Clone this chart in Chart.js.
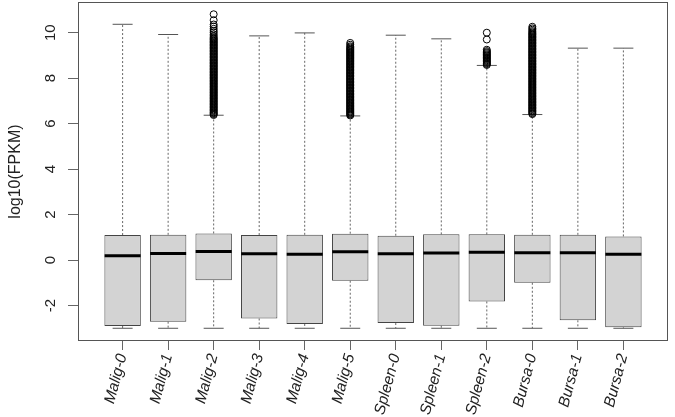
<!DOCTYPE html>
<html><head><meta charset="utf-8">
<script src="https://cdn.jsdelivr.net/npm/chart.js@4/dist/chart.umd.min.js"></script>
<style>html,body{margin:0;padding:0;background:#fff}canvas{display:block}</style>
</head><body>
<canvas id="c" width="675" height="417"></canvas>
<script>
const categories = ['Malig-0','Malig-1','Malig-2','Malig-3','Malig-4','Malig-5','Spleen-0','Spleen-1','Spleen-2','Bursa-0','Bursa-1','Bursa-2'];
const lowerWhisker = [-3.00,-3.00,-3.00,-3.00,-3.00,-3.00,-3.00,-3.00,-3.00,-3.00,-3.00,-3.00];
const q1 = [-2.90,-2.71,-0.89,-2.57,-2.81,-0.91,-2.77,-2.89,-1.82,-1.00,-2.65,-2.96];
const median = [0.19,0.29,0.38,0.28,0.26,0.37,0.28,0.31,0.34,0.32,0.32,0.25];
const q3 = [1.10,1.11,1.17,1.10,1.11,1.16,1.07,1.13,1.13,1.11,1.11,1.04];
const upperWhisker = [10.37,9.92,6.37,9.86,9.99,6.34,9.89,9.73,8.56,6.40,9.32,9.32];
const outliersMalig2 = [6.38,6.42,6.46,6.50,6.55,6.59,6.63,6.68,6.72,6.76,6.81,6.85,6.89,6.94,6.98,7.02,7.07,7.11,7.15,7.20,7.24,7.28,7.33,7.37,7.41,7.46,7.50,7.54,7.59,7.63,7.67,7.72,7.76,7.80,7.85,7.89,7.93,7.98,8.02,8.06,8.11,8.15,8.19,8.24,8.28,8.32,8.37,8.41,8.45,8.50,8.54,8.58,8.63,8.67,8.71,8.76,8.80,8.84,8.89,8.93,8.97,9.02,9.06,9.10,9.15,9.19,9.23,9.28,9.32,9.36,9.41,9.45,9.49,9.54,9.58,9.62,9.67,9.71,9.75,9.80,9.86,9.93,10.01,10.08,10.17,10.27,10.36,10.55,10.81];
const outliersMalig5 = [6.36,6.40,6.44,6.49,6.53,6.57,6.62,6.66,6.70,6.75,6.79,6.83,6.88,6.92,6.96,7.01,7.05,7.09,7.14,7.18,7.22,7.27,7.31,7.35,7.40,7.44,7.48,7.53,7.57,7.61,7.66,7.70,7.74,7.79,7.83,7.87,7.92,7.96,8.00,8.05,8.09,8.13,8.18,8.22,8.26,8.31,8.35,8.39,8.44,8.48,8.52,8.57,8.61,8.65,8.70,8.74,8.78,8.83,8.87,8.91,8.96,9.00,9.04,9.09,9.13,9.17,9.22,9.26,9.30,9.35,9.40,9.47,9.55];
const outliersSpleen2 = [8.58,8.62,8.66,8.71,8.75,8.79,8.84,8.88,8.92,8.97,9.01,9.05,9.10,9.14,9.19,9.25,9.70,10.00];
const outliersBursa0 = [6.42,6.46,6.51,6.55,6.59,6.64,6.68,6.72,6.77,6.81,6.85,6.90,6.94,6.98,7.03,7.07,7.11,7.16,7.20,7.24,7.29,7.33,7.37,7.42,7.46,7.50,7.55,7.59,7.63,7.68,7.72,7.76,7.81,7.85,7.89,7.94,7.98,8.02,8.07,8.11,8.15,8.20,8.24,8.28,8.33,8.37,8.41,8.46,8.50,8.54,8.59,8.63,8.67,8.72,8.76,8.80,8.85,8.89,8.93,8.98,9.02,9.06,9.11,9.15,9.19,9.24,9.28,9.32,9.37,9.41,9.45,9.50,9.54,9.58,9.63,9.67,9.71,9.76,9.80,9.84,9.89,9.93,9.97,10.02,10.07,10.13,10.19,10.26];
const outlierGroups = [['Malig-2', outliersMalig2], ['Malig-5', outliersMalig5], ['Spleen-2', outliersSpleen2], ['Bursa-0', outliersBursa0]];
const yTicks = [-2, 0, 2, 4, 6, 8, 10];
const yTitle = 'log10(FPKM)';

const pos = i => i + 1;
const boxData = categories.map((c, i) => ({x: pos(i), y: [q1[i], q3[i]]}));
const whiskerData = [];
categories.forEach((c, i) => {
  whiskerData.push({x: pos(i), y: q3[i]}, {x: pos(i), y: upperWhisker[i]}, {x: pos(i), y: null});
  whiskerData.push({x: pos(i), y: q1[i]}, {x: pos(i), y: lowerWhisker[i]}, {x: pos(i), y: null});
});
const capData = [];
categories.forEach((c, i) => { capData.push({x: pos(i), y: upperWhisker[i]}, {x: pos(i), y: lowerWhisker[i]}); });
const medianData = categories.map((c, i) => ({x: pos(i), y: median[i]}));
const outlierData = [];
outlierGroups.forEach(([name, vals]) => {
  const i = categories.indexOf(name);
  vals.forEach(v => outlierData.push({x: pos(i), y: v}));
});

const FONT = '"Liberation Sans", Arial, Helvetica, sans-serif';
const framePlugin = {
  id: 'frame',
  afterDraw(chart) {
    const {ctx, chartArea: a} = chart;
    ctx.save();
    ctx.strokeStyle = '#555';
    ctx.lineWidth = 1;
    ctx.strokeRect(Math.round(a.left) + 0.5, Math.round(a.top) + 0.5, Math.round(a.right - a.left) - 1, Math.round(a.bottom - a.top) - 1);
    // y tick labels, rotated like R's default (parallel to the axis), centred on each tick
    const ys = chart.scales.y;
    ctx.fillStyle = '#222';
    ctx.font = '15px ' + FONT;
    ctx.textAlign = 'center';
    ctx.textBaseline = 'middle';
    ys.ticks.forEach(t => {
      const py = ys.getPixelForValue(t.value);
      ctx.save();
      ctx.translate(ys.right - 27, py);
      ctx.rotate(-Math.PI / 2);
      ctx.fillText(String(t.value), 0, 0);
      ctx.restore();
    });
    ctx.restore();
  }
};

new Chart(document.getElementById('c'), {
  type: 'bar',
  data: {
    datasets: [
      {type: 'line', data: whiskerData, borderColor: '#666', borderWidth: 1, borderDash: [2, 2], pointRadius: 0, spanGaps: false, order: 5},
      {type: 'bar', data: boxData, backgroundColor: '#d3d3d3', borderColor: '#444', borderWidth: 1, borderSkipped: false, barPercentage: 0.8, categoryPercentage: 1, order: 4},
      {type: 'scatter', data: capData, pointStyle: 'line', pointRadius: 10, borderColor: '#555', borderWidth: 1, order: 3},
      {type: 'scatter', data: medianData, pointStyle: 'line', pointRadius: 18, borderColor: '#000', borderWidth: 3, order: 2},
      {type: 'scatter', data: outlierData, pointStyle: 'circle', pointRadius: 3.5, borderColor: '#000', backgroundColor: 'rgba(0,0,0,0)', borderWidth: 1, order: 1}
    ]
  },
  options: {
    responsive: false,
    animation: false,
    devicePixelRatio: 1,
    events: [],
    layout: {autoPadding: false, padding: {top: 2, right: 7, left: 0, bottom: 0}},
    plugins: {legend: {display: false}, tooltip: {enabled: false}},
    scales: {
      x: {
        type: 'linear', min: 0.02, max: 12.98, offset: false,
        afterBuildTicks: s => { s.ticks = categories.map((c, i) => ({value: pos(i)})); },
        afterFit: s => { s.height = 76; s.paddingLeft = 0; s.paddingRight = 0; },
        ticks: {autoSkip: false, minRotation: 75, maxRotation: 75, padding: 2, color: '#222',
          font: {family: FONT, size: 15.5, style: 'italic'},
          callback: (v, idx) => categories[idx]},
        grid: {offset: false, drawOnChartArea: false, drawTicks: true, tickLength: 9, color: '#666'},
        border: {display: false}
      },
      y: {
        type: 'linear', min: -3.56, max: 11.35,
        afterBuildTicks: s => { s.ticks = yTicks.map(v => ({value: v})); },
        afterFit: s => { s.width = 78; s.paddingTop = 0; s.paddingBottom = 0; },
        ticks: {display: false},
        grid: {drawOnChartArea: false, drawTicks: true, tickLength: 10, color: '#666'},
        border: {display: false},
        title: {display: true, text: yTitle, color: '#222', font: {family: FONT, size: 16}, padding: {top: 6, bottom: 0}}
      }
    }
  },
  plugins: [framePlugin]
});
</script>
</body></html>
